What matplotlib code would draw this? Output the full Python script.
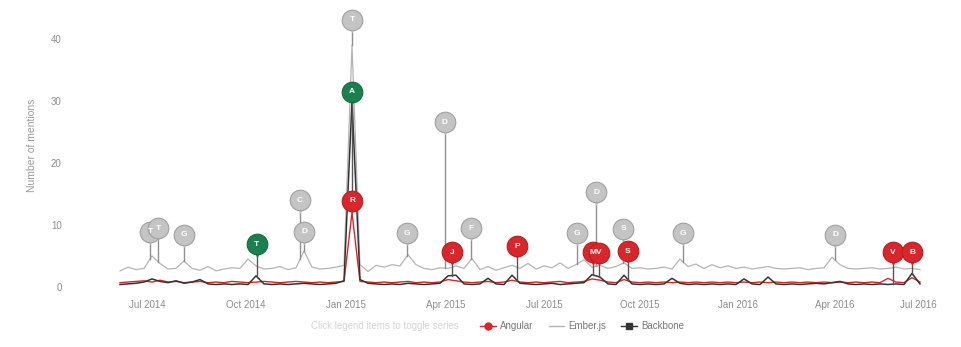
import matplotlib
matplotlib.use("Agg")
import matplotlib.pyplot as plt
import numpy as np

plt.rcParams['font.family'] = ['Liberation Sans', 'DejaVu Sans']

# weekly mentions, index 0..100
grey_vals = [2.6, 3.2, 2.8, 3.0, 5.0, 3.8, 2.9, 3.0, 4.2, 3.0,
             2.7, 3.3, 2.6, 2.9, 3.1, 3.0, 4.5, 3.4, 2.9, 3.0,
             3.3, 2.8, 3.1, 5.8, 3.2, 2.9, 3.0, 3.2, 3.5, 39.0,
             3.6, 2.5, 3.5, 3.2, 3.6, 3.4, 5.2, 3.6, 3.0, 2.8,
             3.1, 3.0, 3.4, 3.0, 4.6, 2.8, 3.3, 2.7, 3.1, 3.5,
             3.0, 3.8, 2.9, 3.4, 3.1, 3.9, 3.0, 3.6, 4.4, 3.2,
             3.5, 3.0, 3.3, 3.9, 3.0, 3.1, 2.9, 3.0, 3.2, 2.9,
             4.5, 3.3, 3.7, 3.0, 3.6, 3.1, 3.4, 3.0, 3.2, 2.9,
             3.1, 3.3, 3.0, 2.9, 3.0, 3.1, 2.8, 3.0, 3.1, 4.8,
             3.6, 3.0, 2.9, 3.0, 3.1, 2.9, 3.0, 3.2, 2.9, 3.0, 2.8]
black_vals = [0.4, 0.5, 0.6, 0.8, 1.3, 0.9, 0.7, 1.0, 0.6, 0.8,
              1.2, 0.5, 0.4, 0.5, 0.4, 0.5, 0.4, 1.8, 0.5, 0.4,
              0.5, 0.4, 0.5, 0.6, 0.5, 0.4, 0.5, 0.6, 1.0, 30.0,
              1.2, 0.6, 0.5, 0.4, 0.5, 0.4, 0.6, 0.5, 0.4, 0.5,
              0.6, 1.8, 1.9, 0.5, 0.4, 0.5, 1.4, 0.5, 0.4, 1.9,
              0.6, 0.5, 0.4, 0.5, 0.6, 0.4, 0.5, 0.6, 0.7, 2.0,
              1.6, 0.5, 0.4, 1.9, 0.5, 0.4, 0.5, 0.4, 0.5, 1.4,
              0.6, 0.4, 0.5, 0.4, 0.5, 0.4, 0.5, 0.4, 1.3, 0.5,
              0.4, 1.6, 0.5, 0.4, 0.5, 0.4, 0.5, 0.6, 0.5, 0.7,
              0.9, 0.5, 0.4, 0.5, 0.4, 0.5, 0.4, 0.5, 0.4, 2.2, 0.5]
red_vals = [0.7, 0.8, 0.9, 1.0, 0.8, 1.1, 0.8, 0.9, 0.7, 0.8,
            0.9, 0.7, 0.8, 0.7, 0.9, 0.8, 0.7, 0.8, 0.9, 0.8,
            0.7, 0.8, 0.9, 0.8, 0.7, 0.8, 0.7, 0.8, 0.9, 12.0,
            0.9, 0.8, 0.7, 0.8, 0.7, 0.8, 0.9, 0.7, 0.8, 0.7,
            0.8, 1.2, 1.0, 0.8, 0.7, 0.8, 0.9, 0.7, 0.8, 1.1,
            0.8, 0.7, 0.8, 0.7, 0.8, 0.9, 0.7, 0.8, 0.9, 1.3,
            1.1, 0.8, 0.7, 1.2, 0.8, 0.7, 0.8, 0.7, 0.8, 0.7,
            0.8, 0.7, 0.8, 0.7, 0.8, 0.7, 0.8, 0.7, 0.8, 0.7,
            0.8, 0.7, 0.8, 0.7, 0.8, 0.7, 0.8, 0.7, 0.8, 0.7,
            0.8, 0.7, 0.8, 0.7, 0.8, 0.7, 1.4, 0.8, 0.7, 1.5, 0.8]

# release flags: position (week index), flag height, letter
grey_flag_x = [3.75, 4.75, 8.0, 22.5, 23.0, 29.0, 35.9, 40.6, 43.9, 57.1, 59.5, 62.9, 70.4, 89.4]
grey_flag_y = [8.9, 9.5, 8.4, 14.0, 8.9, 43.1, 8.7, 26.6, 9.5, 8.7, 15.3, 9.4, 8.7, 8.4]
grey_flag_txt = ['T', 'T', 'G', 'C', 'D', 'T', 'G', 'D', 'F', 'G', 'D', 'S', 'G', 'D']
green_flag_x = [17.1, 29.0]
green_flag_y = [6.9, 31.5]
green_flag_txt = ['T', 'A']
red_flag_x = [29.0, 41.5, 49.6, 59.1, 59.9, 63.5, 96.6, 99.0]
red_flag_y = [13.9, 5.6, 6.6, 5.6, 5.5, 5.8, 5.6, 5.6]
red_flag_txt = ['R', 'J', 'P', 'M', 'V', 'S', 'V', 'B']

tick_pos = [3.4, 15.75, 28.25, 40.75, 53.1, 65.0, 77.25, 89.4, 99.75]
tick_labels = ['Jul 2014', 'Oct 2014', 'Jan 2015', 'Apr 2015', 'Jul 2015',
               'Oct 2015', 'Jan 2016', 'Apr 2016', 'Jul 2016']
y_ticks = [0, 10, 20, 30, 40]

RED = '#d8262b'
GREY = '#b4b4b4'
DARK = '#333333'
GREEN = '#1b7f4e'

x = np.arange(len(grey_vals))

fig = plt.figure(figsize=(9.61, 3.47), dpi=100)
ax = fig.add_axes([120/961, 1-287/347, 800/961, 248/347])

ax.plot(x, grey_vals, color=GREY, lw=0.9, clip_on=False, zorder=2)
ax.plot(x, red_vals, color=RED, lw=1.0, clip_on=False, zorder=3)
ax.plot(x, black_vals, color=DARK, lw=1.1, clip_on=False, zorder=4)


def draw_flags(fx, fy, txt, series, fill, edge, tcolor, stem):
    for px, py, t in zip(fx, fy, txt):
        base = np.interp(px, x, series)
        ax.plot([px, px], [base, py], color=stem, lw=1.0, zorder=5, clip_on=False)
        ax.scatter([px], [py - 1.35], marker='v', s=45, color=fill, zorder=6,
                   clip_on=False, linewidths=0)
        ax.scatter([px], [py], marker='o', s=220, color=fill, edgecolors=edge,
                   linewidths=0.8, zorder=7, clip_on=False)
        ax.text(px, py, t, color=tcolor, fontsize=6, ha='center', va='center',
                fontweight='bold', zorder=8, clip_on=False)


draw_flags(grey_flag_x, grey_flag_y, grey_flag_txt, grey_vals, '#c4c4c4', '#a0a0a0', '#ffffff', '#8f8f8f')
draw_flags(green_flag_x, green_flag_y, green_flag_txt, black_vals, GREEN, '#156b41', '#ffffff', '#555555')
draw_flags(red_flag_x, red_flag_y, red_flag_txt, black_vals, RED, '#b81e22', '#ffffff', '#555555')

ax.set_xlim(0, 100)
ax.set_ylim(0, 40)
ax.set_xticks(tick_pos)
ax.set_xticklabels(tick_labels)
ax.set_yticks(y_ticks)
ax.tick_params(axis='both', length=0, labelsize=7, labelcolor='#8c8c8c')
ax.tick_params(axis='x', pad=9)
ax.tick_params(axis='y', pad=42)
for s in ax.spines.values():
    s.set_visible(False)
fig.text(32/961, 1-145/347, 'Number of mentions', color='#9a9a9a', fontsize=7.5,
         rotation=90, ha='center', va='center')

handles = [
    plt.Line2D([], [], color=RED, marker='o', markersize=5, lw=1),
    plt.Line2D([], [], color=GREY, lw=1),
    plt.Line2D([], [], color=DARK, marker='s', markersize=5, lw=1),
]
leg = fig.legend(handles, ['Angular', 'Ember.js', 'Backbone'], loc='center',
                 bbox_to_anchor=(582/961, 1-326/347), ncol=3, frameon=False,
                 fontsize=7, handlelength=1.6, columnspacing=1.6, handletextpad=0.4)
for t in leg.get_texts():
    t.set_color('#777777')
fig.text(385/961, 1-326/347, 'Click legend items to toggle series', color='#d4d4d4',
         fontsize=7, ha='center', va='center')

fig.savefig('out.png', dpi=100)
